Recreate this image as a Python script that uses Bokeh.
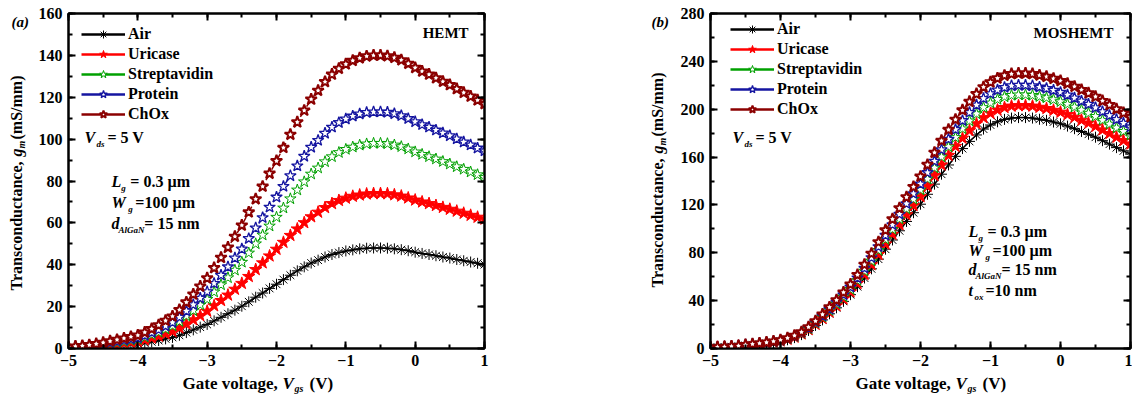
import math
from bokeh.plotting import figure
from bokeh.models import (Range1d, LinearAxis, Label, Legend, LegendItem, SingleIntervalTicker,
                          ColumnDataSource, CustomJSTickFormatter)
from bokeh.layouts import row, column
from bokeh.embed import file_html
from bokeh.resources import INLINE

# ---------------- data ----------------
vgs = [-5.0, -4.9, -4.8, -4.7, -4.6, -4.5, -4.4, -4.3, -4.2, -4.1,
       -4.0, -3.9, -3.8, -3.7, -3.6, -3.5, -3.4, -3.3, -3.2, -3.1,
       -3.0, -2.9, -2.8, -2.7, -2.6, -2.5, -2.4, -2.3, -2.2, -2.1,
       -2.0, -1.9, -1.8, -1.7, -1.6, -1.5, -1.4, -1.3, -1.2, -1.1,
       -1.0, -0.9, -0.8, -0.7, -0.6, -0.5, -0.4, -0.3, -0.2, -0.1,
       0.0, 0.1, 0.2, 0.3, 0.4, 0.5, 0.6, 0.7, 0.8, 0.9, 1.0]

series_names = ["Air", "Uricase", "Streptavidin", "Protein", "ChOx"]

hemt_air = [0.2, 0.3, 0.4, 0.6, 0.8, 1.0, 1.2, 1.4, 1.7, 1.9,
            2.2, 2.6, 3.2, 3.8, 4.6, 5.3, 6.3, 7.6, 8.9, 10.2,
            11.5, 13.2, 14.9, 16.6, 18.3, 20.2, 22.3, 24.5, 26.5, 28.7,
            30.7, 32.9, 35.0, 37.1, 39.0, 40.8, 42.2, 43.7, 44.9, 45.8,
            46.6, 47.1, 47.6, 47.9, 48.0, 48.0, 47.9, 47.6, 47.2, 46.7,
            46.0, 45.4, 44.9, 44.3, 43.7, 43.2, 42.5, 41.9, 41.3, 40.7, 40.1]
hemt_uricase = [0.4, 0.5, 0.7, 0.9, 1.2, 1.5, 1.9, 2.2, 2.6, 3.0,
                3.3, 4.1, 5.0, 5.9, 7.0, 8.1, 9.8, 11.7, 13.7, 15.7,
                17.8, 20.4, 22.9, 25.5, 28.3, 31.1, 34.4, 37.7, 40.9, 44.2,
                47.4, 50.7, 54.0, 57.1, 60.1, 62.9, 65.1, 67.3, 69.2, 70.7,
                71.8, 72.7, 73.3, 73.8, 74.0, 74.0, 73.9, 73.4, 72.8, 71.9,
                70.9, 70.0, 69.2, 68.3, 67.4, 66.5, 65.6, 64.6, 63.6, 62.7, 61.8]
hemt_strept = [0.5, 0.7, 0.9, 1.2, 1.6, 2.0, 2.5, 2.9, 3.4, 3.9,
               4.4, 5.4, 6.6, 7.8, 9.3, 10.8, 12.9, 15.5, 18.1, 20.8,
               23.5, 27.0, 30.4, 33.8, 37.4, 41.2, 45.6, 50.0, 54.2, 58.5,
               62.7, 67.1, 71.5, 75.7, 79.6, 83.3, 86.2, 89.2, 91.6, 93.6,
               95.1, 96.2, 97.1, 97.7, 98.0, 98.0, 97.8, 97.2, 96.4, 95.3,
               93.9, 92.7, 91.6, 90.5, 89.3, 88.1, 86.8, 85.6, 84.3, 83.0, 81.8]
hemt_protein = [0.6, 0.8, 1.0, 1.4, 1.8, 2.3, 2.8, 3.4, 4.0, 4.5,
                5.1, 6.2, 7.6, 9.0, 10.7, 12.4, 14.9, 17.9, 20.9, 24.0,
                27.1, 31.1, 35.0, 39.0, 43.2, 47.5, 52.5, 57.6, 62.5, 67.5,
                72.3, 77.4, 82.5, 87.2, 91.8, 96.1, 99.4, 102.8, 105.7, 107.9,
                109.6, 111.0, 112.0, 112.7, 113.0, 113.0, 112.8, 112.1, 111.2, 109.8,
                108.3, 106.9, 105.7, 104.3, 102.9, 101.6, 100.1, 98.6, 97.2, 95.7, 94.4]
hemt_chox = [0.7, 1.0, 1.3, 1.7, 2.2, 2.8, 3.5, 4.2, 4.9, 5.6,
             6.3, 7.7, 9.4, 11.2, 13.3, 15.4, 18.5, 22.1, 25.9, 29.7,
             33.6, 38.5, 43.4, 48.3, 53.5, 58.8, 65.1, 71.4, 77.4, 83.6,
             89.6, 95.9, 102.2, 108.1, 113.7, 119.0, 123.2, 127.4, 130.9, 133.7,
             135.8, 137.5, 138.7, 139.6, 140.0, 140.0, 139.7, 138.9, 137.8, 136.1,
             134.1, 132.4, 130.9, 129.2, 127.5, 125.9, 124.0, 122.2, 120.4, 118.6, 116.9]

mos_air = [0.8, 1.0, 1.2, 1.5, 1.9, 2.5, 3.1, 3.7, 4.2, 5.0,
           6.0, 7.3, 9.1, 11.6, 15.1, 19.3, 23.9, 29.0, 34.0, 39.4,
           45.0, 51.7, 58.9, 66.6, 74.7, 83.0, 90.7, 98.4, 106.2, 113.5,
           120.6, 128.9, 137.4, 145.7, 153.4, 160.6, 167.1, 173.1, 178.5, 183.4,
           186.8, 189.5, 191.5, 192.6, 193.0, 193.0, 192.6, 191.6, 190.7, 189.3,
           187.8, 185.9, 183.7, 181.4, 179.1, 176.6, 173.7, 170.8, 167.9, 165.2, 162.5]
mos_uricase = [0.8, 1.0, 1.2, 1.6, 2.0, 2.6, 3.2, 3.9, 4.5, 5.3,
               6.3, 7.7, 9.5, 12.2, 15.8, 20.3, 25.2, 30.5, 35.7, 41.4,
               47.3, 54.4, 61.9, 70.0, 78.6, 87.3, 95.4, 103.5, 111.7, 119.4,
               126.9, 135.6, 144.5, 153.3, 161.4, 168.9, 175.8, 182.1, 187.8, 192.9,
               196.5, 199.3, 201.4, 202.6, 203.0, 203.0, 202.6, 201.6, 200.6, 199.1,
               197.5, 195.5, 193.3, 190.8, 188.4, 185.7, 182.7, 179.7, 176.6, 173.8, 170.9]
mos_strept = [0.8, 1.1, 1.3, 1.7, 2.1, 2.8, 3.4, 4.0, 4.7, 5.5,
              6.6, 8.1, 10.0, 12.7, 16.5, 21.2, 26.3, 31.8, 37.3, 43.2,
              49.4, 56.8, 64.7, 73.1, 82.0, 91.2, 99.6, 108.1, 116.6, 124.7,
              132.5, 141.6, 150.9, 160.1, 168.5, 176.4, 183.6, 190.2, 196.1, 201.4,
              205.2, 208.2, 210.3, 211.6, 212.0, 212.0, 211.6, 210.5, 209.5, 208.0,
              206.3, 204.2, 201.8, 199.3, 196.7, 194.0, 190.8, 187.6, 184.4, 181.5, 178.5]
mos_protein = [0.9, 1.1, 1.3, 1.8, 2.2, 2.9, 3.5, 4.2, 4.8, 5.7,
               6.8, 8.4, 10.3, 13.2, 17.2, 22.0, 27.3, 33.0, 38.7, 44.9,
               51.3, 59.0, 67.1, 75.9, 85.1, 94.6, 103.4, 112.2, 121.0, 129.4,
               137.5, 147.0, 156.6, 166.1, 174.9, 183.0, 190.5, 197.3, 203.5, 209.0,
               213.0, 216.0, 218.2, 219.6, 220.0, 220.0, 219.6, 218.5, 217.4, 215.8,
               214.1, 211.9, 209.4, 206.8, 204.2, 201.3, 198.0, 194.7, 191.4, 188.3, 185.2]
mos_chox = [0.9, 1.2, 1.4, 1.8, 2.3, 3.0, 3.7, 4.4, 5.1, 6.0,
            7.1, 8.7, 10.8, 13.8, 17.9, 23.0, 28.5, 34.5, 40.5, 46.9,
            53.6, 61.6, 70.2, 79.4, 89.0, 98.9, 108.1, 117.3, 126.5, 135.2,
            143.8, 153.6, 163.8, 173.7, 182.9, 191.4, 199.2, 206.3, 212.8, 218.5,
            222.6, 225.9, 228.2, 229.5, 230.0, 230.0, 229.5, 228.4, 227.2, 225.6,
            223.8, 221.5, 219.0, 216.2, 213.4, 210.5, 207.0, 203.6, 200.1, 196.9, 193.7]

hemt_series = [hemt_air, hemt_uricase, hemt_strept, hemt_protein, hemt_chox]
mos_series = [mos_air, mos_uricase, mos_strept, mos_protein, mos_chox]

hemt_y_max, hemt_y_step = 160, 20
mos_y_max, mos_y_step = 280, 40

# ---------------- styles ----------------
FONT = "Liberation Serif"
styles = [
    dict(color="black", marker="asterisk", fill="black", lw=1.0, dash="solid", size=11),
    dict(color="#FF0000", marker="star", fill="#FF0000", lw=1.0, dash="solid", size=13),
    dict(color="#00A000", marker="star", fill="white", lw=1.0, dash="dotted", size=12),
    dict(color="#1515A0", marker="star", fill="white", lw=1.3, dash="dashdot", size=12),
    dict(color="#8B0000", marker="star", fill="white", lw=2.0, dash="dashed", size=12),
]

# layout (page pixels; page = canvas)
TOP, FH, BOT = 13, 335, 26
PH = TOP + FH + BOT
XLAB_H = 401 - PH


def label_fig(width, height, aligned):
    # figures in the same row get their frames aligned with the panels,
    # so their data range is chosen such that data y == height - page y
    if aligned:
        yr = Range1d(BOT, height - TOP)
        mt, mb = TOP, BOT
    else:
        yr = Range1d(0, height)
        mt, mb = 0, 0
    f = figure(width=width, height=height, x_range=Range1d(0, width), y_range=yr,
               output_backend="svg", toolbar_location=None, title=None,
               x_axis_location=None, y_axis_location=None,
               min_border_left=0, min_border_right=0,
               min_border_top=mt, min_border_bottom=mb)
    f.xgrid.visible = False
    f.ygrid.visible = False
    f.outline_line_color = None
    f.background_fill_color = "white"
    f.border_fill_color = "white"
    return f


def put(fig, x, y, text, size="16px", style="bold", align="left", angle=0.0):
    fig.add_layout(Label(x=x, y=y, text=text, text_font=FONT, text_font_style=style,
                         text_font_size=size, text_align=align, text_baseline="middle",
                         angle=angle, text_color="black"))


def make_panel(series, ymax, ystep, width, bl, br, page_x0, name_text, name_right,
               annots, legend_loc):
    p = figure(width=width, height=PH, x_range=Range1d(-5, 1), y_range=Range1d(0, ymax),
               output_backend="svg", toolbar_location=None, title=None,
               x_axis_location=None, y_axis_location=None,
               min_border_left=bl, min_border_right=br, min_border_top=TOP, min_border_bottom=BOT)
    p.xgrid.visible = False
    p.ygrid.visible = False
    p.background_fill_color = "white"
    p.border_fill_color = "white"
    p.outline_line_color = "black"
    p.outline_line_width = 2

    fw = width - bl - br
    fl = page_x0 + bl

    def dx(xp):
        return -5 + 6.0 * (xp - fl) / fw

    def dy(yp):
        return ymax * (TOP + FH - yp) / FH

    bottom = LinearAxis()
    left = LinearAxis()
    top = LinearAxis()
    right = LinearAxis()
    p.add_layout(bottom, "below")
    p.add_layout(left, "left")
    p.add_layout(top, "above")
    p.add_layout(right, "right")
    xt = SingleIntervalTicker(interval=1, num_minor_ticks=2)
    yt = SingleIntervalTicker(interval=ystep, num_minor_ticks=2)
    bottom.ticker = xt
    top.ticker = xt
    left.ticker = yt
    right.ticker = yt
    for ax in [bottom, left, top, right]:
        ax.axis_line_width = 2
        ax.axis_line_color = "black"
        ax.major_tick_in = 7
        ax.major_tick_out = 0
        ax.minor_tick_in = 4
        ax.minor_tick_out = 0
        ax.major_tick_line_width = 2
        ax.minor_tick_line_width = 2
        ax.major_tick_line_color = "black"
        ax.minor_tick_line_color = "black"
        ax.major_label_text_font = FONT
        ax.major_label_text_font_style = "bold"
        ax.major_label_text_font_size = "16px"
        ax.major_label_text_color = "black"
    for ax in [top, right]:
        ax.formatter = CustomJSTickFormatter(code="return ''")
        ax.major_label_text_font_size = "1px"
        ax.major_label_standoff = 0
    bottom.major_label_standoff = 6
    left.major_label_standoff = 6

    legend_items = []
    for name, ys, st in zip(series_names, series, styles):
        src = ColumnDataSource(dict(x=vgs, y=ys))
        p.line("x", "y", source=src, line_color=st["color"], line_width=1.5, line_dash=st["dash"])
        p.scatter("x", "y", source=src, marker=st["marker"], size=st["size"], line_color=st["color"],
                  fill_color=st["fill"], line_width=st["lw"])
        # legend-only renderers: a single NaN point, so nothing is drawn in the frame
        lsrc = ColumnDataSource(dict(x=[float("nan")], y=[float("nan")]))
        lr = p.line("x", "y", source=lsrc, line_color=st["color"], line_width=2.5)
        sr = p.scatter("x", "y", source=lsrc, marker=st["marker"], size=st["size"],
                       line_color=st["color"], fill_color=st["fill"], line_width=st["lw"])
        legend_items.append(LegendItem(label=name, renderers=[lr, sr]))

    leg = Legend(items=legend_items, location=legend_loc, padding=0, spacing=0, margin=0,
                 glyph_width=44, glyph_height=20, label_height=20, label_standoff=3,
                 border_line_color=None, background_fill_alpha=0,
                 label_text_font=FONT, label_text_font_style="bold", label_text_font_size="16px",
                 label_text_color="black")
    p.add_layout(leg)

    def lab(xp, yp, text, size="16px", style="bold", align="left"):
        put(p, dx(xp), dy(yp), text, size=size, style=style, align=align)

    lab(name_right, 32, name_text, size="15px", align="right")
    for (xp, yp, text, kind) in annots:
        if kind == "it":
            lab(xp, yp, text, style="bold italic")
        elif kind == "sub":
            lab(xp, yp + 6, text, size="9px", style="bold italic")
        else:
            lab(xp, yp, text)
    return p


def y_title(fig, x, y_start, fig_h):
    a = math.pi / 2
    def yy(yp):
        return fig_h - yp
    put(fig, x, yy(y_start), "Transconductance, ", angle=a)
    put(fig, x, yy(y_start - 134), "g", style="bold italic", angle=a)
    put(fig, x + 5, yy(y_start - 142), "m", size="10px", style="bold italic", angle=a)
    put(fig, x, yy(y_start - 151), "(mS/mm)", angle=a)


def x_title(fig, x0, yp, fig_top):
    def yy(y):
        return XLAB_H - (y - fig_top)
    put(fig, x0, yy(yp), "Gate voltage, ", size="17px")
    put(fig, x0 + 100, yy(yp), "V", size="17px", style="bold italic")
    put(fig, x0 + 112, yy(yp + 5), "gs", size="10px", style="bold italic")
    put(fig, x0 + 127, yy(yp), "(V)", size="17px")


YL1_W, P1_W, YL2_W, P2_W = 35, 455, 180, 462
P1_X0 = YL1_W
YL2_X0 = P1_X0 + P1_W
P2_X0 = YL2_X0 + YL2_W

ann1 = [
    (83, 137, "V", "it"), (95, 137, "ds", "sub"), (106, 137, "= 5 V", "n"),
    (110, 181, "L", "it"), (120, 181, "g", "sub"), (129, 181, "= 0.3 µm", "n"),
    (110, 202, "W", "it"), (127, 202, "g", "sub"), (134, 202, "=100 µm", "n"),
    (110, 223, "d", "it"), (117, 223, "AlGaN", "sub"), (143, 223, "= 15 nm", "n"),
]
ann2 = [
    (732, 137, "V", "it"), (744, 137, "ds", "sub"), (755, 137, "= 5 V", "n"),
    (968, 231, "L", "it"), (978, 231, "g", "sub"), (987, 231, "= 0.3 µm", "n"),
    (968, 250, "W", "it"), (985, 250, "g", "sub"), (992, 250, "=100 µm", "n"),
    (968, 269, "d", "it"), (975, 269, "AlGaN", "sub"), (1001, 269, "= 15 nm", "n"),
    (968, 290, "t", "it"), (974, 290, "ox", "sub"), (985, 290, "=10 nm", "n"),
]

p1 = make_panel(hemt_series, hemt_y_max, hemt_y_step, P1_W, 32, 6, P1_X0, "HEMT", 468,
                ann1, (13, 224))
p2 = make_panel(mos_series, mos_y_max, mos_y_step, P2_W, 40, 2, P2_X0, "MOSHEMT", 1113,
                ann2, (20, 229))

yl1 = label_fig(YL1_W, PH, True)
put(yl1, 11, PH - 21, "(a)", size="15px", style="bold italic")
y_title(yl1, 16, 290, PH)

yl2 = label_fig(YL2_W, PH, True)
put(yl2, 651 - YL2_X0, PH - 21, "(b)", size="15px", style="bold italic")
y_title(yl2, 657 - YL2_X0, 287, PH)

xl = label_fig(YL1_W + P1_W + YL2_W + P2_W, XLAB_H, False)
x_title(xl, 182, 383, PH)
x_title(xl, 855, 383, PH)

layout = column(row(yl1, p1, yl2, p2), xl)
open("out.html", "w").write(file_html(layout, INLINE))
